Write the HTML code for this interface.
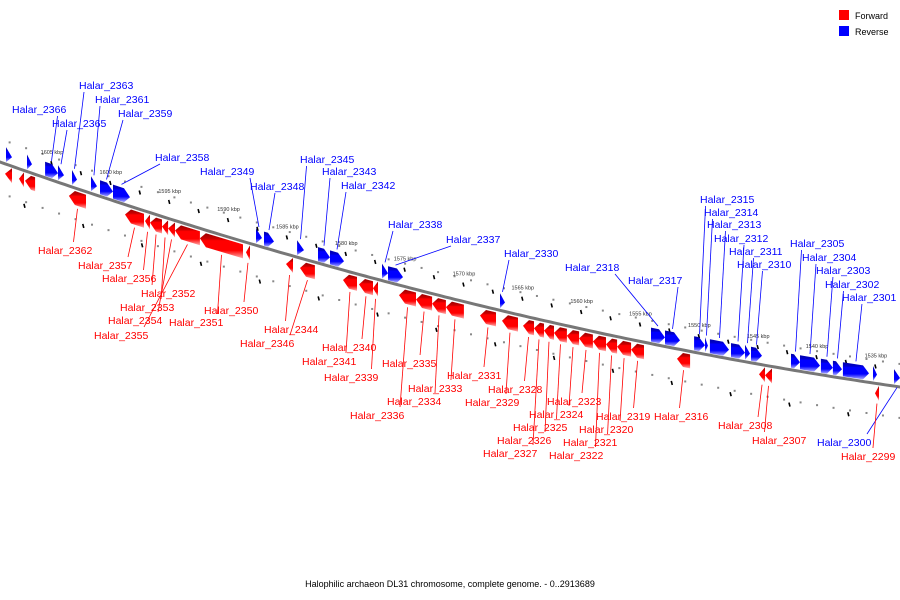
<!DOCTYPE html>
<html><head><meta charset="utf-8"><style>
html,body{margin:0;padding:0;background:#fff}
svg{display:block;font-family:"Liberation Sans","DejaVu Sans",sans-serif}
</style></head><body>
<svg id="chart" width="900" height="600" viewBox="0 0 900 600" xmlns="http://www.w3.org/2000/svg">
<defs>
<linearGradient id="gRed" x1="0" y1="0" x2="0" y2="1"><stop offset="0" stop-color="#900"/><stop offset="0.22" stop-color="#c00"/><stop offset="0.3" stop-color="#f00"/><stop offset="0.68" stop-color="#f00"/><stop offset="1" stop-color="#ffb0b0"/></linearGradient>
<linearGradient id="gBlue" x1="0" y1="0" x2="0" y2="1"><stop offset="0" stop-color="#00a"/><stop offset="0.22" stop-color="#00c"/><stop offset="0.3" stop-color="#00f"/><stop offset="0.68" stop-color="#00f"/><stop offset="1" stop-color="#b0b0ff"/></linearGradient>
</defs>
<g id="ticks"></g>
<path id="axis" fill="none" stroke="#777" stroke-width="3"/>
<g id="genes"></g>
<g id="labels"></g>
<g>
<rect x="839" y="10" width="10" height="10" fill="#f00"/>
<text x="855" y="19" font-size="9">Forward</text>
<rect x="839" y="26" width="10" height="10" fill="#00f"/>
<text x="855" y="35" font-size="9">Reverse</text>
</g>
<text x="450" y="587" font-size="9" text-anchor="middle">Halophilic archaeon DL31 chromosome, complete genome. - 0..2913689</text>
</svg>
<script>
// gene data: [start kbp, end kbp, strand (1 fwd / -1 rev), label]
const geneStart = [1608.91,1607.12,1605.59,1604.49,1603.30,1601.69,1600.92,1599.82,1587.67,1586.99,1584.18,1582.40,1581.38,1576.96,1576.45,1566.94,1554.11,1552.92,1550.45,1549.52,1549.10,1547.31,1546.12,1545.61,1542.21,1541.45,1539.67,1538.65,1537.80,1535.25,1533.46,
 1608.99,1607.80,1607.29,1603.56,1598.80,1597.10,1596.67,1595.65,1595.14,1594.55,1592.43,1588.52,1585.12,1583.93,1580.28,1578.92,1577.73,1575.52,1574.07,1572.71,1571.53,1568.64,1566.77,1564.98,1564.05,1563.20,1562.35,1561.25,1560.22,1559.04,1557.93,1556.99,1555.80,1551.90,1544.93,1544.42,1535.08];
const geneEnd = [1608.40,1606.70,1604.49,1603.98,1602.88,1601.18,1599.82,1598.37,1587.16,1586.14,1583.59,1581.38,1580.19,1576.45,1575.18,1566.51,1552.92,1551.64,1549.52,1549.27,1547.48,1546.12,1545.70,1544.68,1541.45,1539.75,1538.65,1537.88,1535.59,1534.91,1532.95,
 1608.40,1607.38,1606.44,1602.11,1597.18,1596.67,1595.65,1595.14,1594.55,1592.43,1588.77,1588.18,1584.52,1582.66,1579.09,1577.73,1577.30,1574.07,1572.71,1571.53,1570.00,1567.28,1565.41,1564.05,1563.20,1562.35,1561.25,1560.22,1559.04,1557.93,1556.99,1555.80,1554.70,1550.79,1544.42,1543.83,1534.74];
const geneStrand = [-1,-1,-1,-1,-1,-1,-1,-1,-1,-1,-1,-1,-1,-1,-1,-1,-1,-1,-1,-1,-1,-1,-1,-1,-1,-1,-1,-1,-1,-1,-1,
 1,1,1,1,1,1,1,1,1,1,1,1,1,1,1,1,1,1,1,1,1,1,1,1,1,1,1,1,1,1,1,1,1,1,1,1,1];
const geneName = ["","","Halar_2366","Halar_2365","Halar_2363","Halar_2361","Halar_2359","Halar_2358","Halar_2349","Halar_2348","Halar_2345","Halar_2343","Halar_2342","Halar_2338","Halar_2337","Halar_2330","Halar_2318","Halar_2317","Halar_2315","Halar_2314","Halar_2313","Halar_2312","Halar_2311","Halar_2310","Halar_2305","Halar_2304","Halar_2303","Halar_2302","Halar_2301","","Halar_2300",
 "","","","Halar_2362","Halar_2357","Halar_2356","Halar_2352","Halar_2353","Halar_2354","Halar_2355","Halar_2351","Halar_2350","Halar_2344","Halar_2346","Halar_2341","Halar_2340","Halar_2339","Halar_2336","Halar_2335","Halar_2334","Halar_2333","Halar_2331","Halar_2329","Halar_2328","Halar_2327","Halar_2326","Halar_2325","Halar_2324","Halar_2323","Halar_2322","Halar_2321","Halar_2320","Halar_2319","Halar_2316","Halar_2308","Halar_2307","Halar_2299"];
// label layout (text position) keyed by name
const labelPos = {"Halar_2366":[12,113],"Halar_2363":[79,89],"Halar_2361":[95,103],"Halar_2365":[52,127],"Halar_2359":[118,117],"Halar_2358":[155,161],"Halar_2349":[200,175],"Halar_2348":[250,190],"Halar_2345":[300,163],"Halar_2343":[322,175],"Halar_2342":[341,189],"Halar_2338":[388,228],"Halar_2337":[446,243],"Halar_2330":[504,257],"Halar_2318":[565,271],"Halar_2317":[628,284],"Halar_2315":[700,203],"Halar_2314":[704,216],"Halar_2313":[707,228],"Halar_2312":[714,242],"Halar_2311":[729,255],"Halar_2310":[737,268],"Halar_2309":[744,282],"Halar_2305":[790,247],"Halar_2304":[802,261],"Halar_2303":[816,274],"Halar_2302":[825,288],"Halar_2301":[842,301],"Halar_2300":[817,446],
"Halar_2362":[38,254],"Halar_2357":[78,269],"Halar_2356":[102,282],"Halar_2352":[141,297],"Halar_2353":[120,311],"Halar_2354":[108,324],"Halar_2355":[94,339],"Halar_2351":[169,326],"Halar_2350":[204,314],"Halar_2344":[264,333],"Halar_2346":[240,347],"Halar_2340":[322,351],"Halar_2341":[302,365],"Halar_2339":[324,381],"Halar_2336":[350,419],"Halar_2335":[382,367],"Halar_2334":[387,405],"Halar_2333":[408,392],"Halar_2331":[447,379],"Halar_2329":[465,406],"Halar_2328":[488,393],"Halar_2323":[547,405],"Halar_2324":[529,418],"Halar_2325":[513,431],"Halar_2326":[497,444],"Halar_2327":[483,457],"Halar_2319":[596,420],"Halar_2320":[579,433],"Halar_2321":[563,446],"Halar_2322":[549,459],"Halar_2316":[654,420],"Halar_2308":[718,429],"Halar_2307":[752,444],"Halar_2299":[841,460]};
const tickKbp = [1605,1600,1595,1590,1585,1580,1575,1570,1565,1560,1555,1550,1545,1540,1535];
const tickLabels = ["1605 kbp","1600 kbp","1595 kbp","1590 kbp","1585 kbp","1580 kbp","1575 kbp","1570 kbp","1565 kbp","1560 kbp","1555 kbp","1550 kbp","1545 kbp","1540 kbp","1535 kbp"];

const NS='http://www.w3.org/2000/svg';
function xOf(k){return 52+(1605-k)*11.77;}
function yOf(x){return 162+0.355*x-1.167e-4*x*x;}
function mk(tag,attrs,parent){const e=document.createElementNS(NS,tag);for(const a in attrs)e.setAttribute(a,attrs[a]);parent.appendChild(e);return e;}

// axis
let d='';for(let x=-5;x<=905;x+=5){d+=(x===-5?'M':'L')+x+' '+yOf(x).toFixed(1);}
document.getElementById('axis').setAttribute('d',d);

// ticks: dotted tracks
const tg=document.getElementById('ticks');
for(let k=1610;k>=1530;k-=1.4){
  const x=xOf(k); if(x<0||x>900)continue;
  const up=mk('rect',{x:x-1,y:yOf(x)-24,width:2,height:2,fill:'#888'},tg);
  
  
  const dn=mk('rect',{x:x-1,y:yOf(x)+30,width:2,height:2,fill:'#888'},tg);
  
  
}
tickKbp.forEach((k,i)=>{
  const x=xOf(k);
  const t=mk('line',{x1:x-1,y1:yOf(x)-19,x2:x,y2:yOf(x)-15,stroke:'#000','stroke-width':1.6},tg);
  
  
  const x2=xOf(k+2.3);
  const t2=mk('line',{x1:x2-1,y1:yOf(x2)+33,x2:x2,y2:yOf(x2)+37,stroke:'#000','stroke-width':1.6},tg);
  
  
  const x3=xOf(k-2.5);
  const t3=mk('line',{x1:x3-1,y1:yOf(x3)-19,x2:x3,y2:yOf(x3)-15,stroke:'#000','stroke-width':1.6},tg);
  
  
  const lb=mk('text',{x:x,y:yOf(x)-26,'font-size':5.5,'text-anchor':'middle',fill:'#333'},tg);
  lb.textContent=tickLabels[i];
  
  
});

// genes
const gg=document.getElementById('genes'),lg=document.getElementById('labels');
const H=14;
for(let i=0;i<geneStart.length;i++){
  const xa=xOf(geneStart[i]),xb=xOf(geneEnd[i]);
  const s=geneStrand[i];
  const off=s<0?-(H+2):3;
  const len=xb-xa;const head=Math.min(6,len);
  const T=x=>yOf(x)+off, B=x=>yOf(x)+off+H, M=x=>yOf(x)+off+H/2;
  let pts;
  if(s<0){ // points right
    const xh=xb-head;
    pts=[[xa,T(xa)],[xh,T(xh)],[xb,M(xb)],[xh,B(xh)],[xa,B(xa)]];
    if(len<8) pts=[[xa,T(xa)-1],[xb,M(xb)],[xa,B(xa)]];
  } else { // points left
    const xh=xa+head;
    pts=[[xa,M(xa)],[xh,T(xh)],[xb,T(xb)],[xb,B(xb)],[xh,B(xh)]];
    if(len<8) pts=[[xa,M(xa)],[xb,T(xb)-1],[xb,B(xb)]];
  }
  const p=mk('polygon',{points:pts.map(q=>q[0].toFixed(1)+','+q[1].toFixed(1)).join(' '),fill:s<0?'url(#gBlue)':'url(#gRed)'},gg);
  
  
  const nm=geneName[i];
  if(nm&&labelPos[nm]){
    const [lx,ly]=labelPos[nm];
    const col=s<0?'#00f':'#f00';
    const gm=(xa+xb)/2;
    const ax=Math.max(lx+5,Math.min(lx+50,gm+ (ly<yOf(gm)? 6: -4)));
    const ay=ly<yOf(gm)?ly+3:ly-12;
    const gy=ly<yOf(gm)?T(gm)-3:B(gm)+3;
    const l=mk('line',{x1:ax,y1:ay,x2:gm,y2:gy,stroke:col,'stroke-width':0.8},lg);
    
    
    const t=mk('text',{x:lx,y:ly,'font-size':10.5,fill:col},lg);
    t.textContent=nm;
    
    
  }
}
</script>
</body></html>
